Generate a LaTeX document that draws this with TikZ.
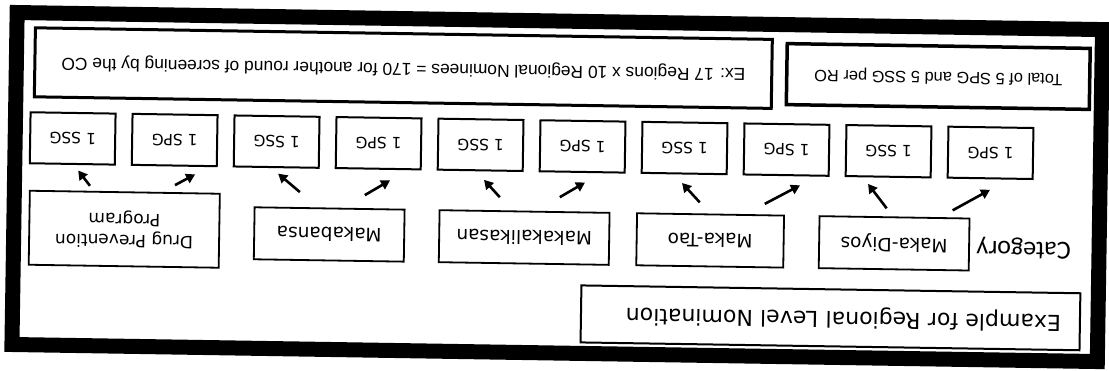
\documentclass[tikz,border=0pt]{standalone}
\usepackage{fontspec}
\setmainfont{DejaVu Sans}
\newfontfamily\notefont{Liberation Sans}
\newfontfamily\labelfont{Carlito}
\usetikzlibrary{positioning,arrows.meta}

\begin{document}
\begin{tikzpicture}[x=1pt, y=1pt, node distance=102pt]
                \tikzstyle{outerframe} = [draw, line width=15pt]
                \tikzstyle{headbox} = [draw, line width=2pt, minimum height=57pt, inner xsep=19pt, text width=461pt, align=left, font=\fontsize{22}{26}\selectfont]
                \tikzstyle{category} = [draw, line width=1.8pt, minimum height=52pt, align=center, font=\fontsize{18.5}{22}\selectfont]
                \tikzstyle{award} = [draw, line width=2pt, minimum width=85pt, minimum height=51pt, font=\fontsize{15.5}{18}\selectfont]
                \tikzstyle{note} = [draw, line width=3pt, font=\notefont\fontsize{17.4}{20}\selectfont]
                \tikzstyle{arrow} = [line width=2.6pt, -{Triangle[length=9pt, width=10pt]}]

                \useasboundingbox (0,0) rectangle (1109,371);
                \begin{scope}[shift={(554.5,185.5)}, rotate=179.1, transform shape]
                \draw [outerframe] (-545.5,-164.5) rectangle (540,167.5);

                \node (head) [headbox] at (-278,128) {Example for Regional Level Nomination};

                \node (diyos) [category, minimum width=150pt] at (-340.5,52.5) {Maka-Diyos};
                \node (tao) [category, minimum width=147pt] at (-156.5,52.5) {Maka-Tao};
                \node (kalikasan) [category, minimum width=170pt] at (29.5,52.5) {Makakalikasan};
                \node (bansa) [category, minimum width=150pt] at (224.5,52.5) {Makabansa};
                \node (drug) [category, minimum width=190pt, minimum height=74pt, font=\fontsize{17}{21}\selectfont] at (429.5,50.5) {Drug Prevention\\Program};
                \node (catlabel) [left=3pt of diyos, yshift=3pt, font=\labelfont\fontsize{26}{30}\selectfont] {Category};

                \node (spgdiyos) [award] at (-435.5,-39.5) {1 SPG};
                \node (ssgdiyos) [award, right of=spgdiyos] {1 SSG};
                \node (spgtao) [award, right of=ssgdiyos] {1 SPG};
                \node (ssgtao) [award, right of=spgtao] {1 SSG};
                \node (spgkalikasan) [award, right of=ssgtao] {1 SPG};
                \node (ssgkalikasan) [award, right of=spgkalikasan] {1 SSG};
                \node (spgbansa) [award, right of=ssgkalikasan] {1 SPG};
                \node (ssgbansa) [award, right of=spgbansa] {1 SSG};
                \node (spgdrug) [award, right of=ssgbansa] {1 SPG};
                \node (ssgdrug) [award, right of=spgdrug] {1 SSG};

                \node (total) [note, line width=3.5pt, minimum width=303pt, minimum height=61pt, font=\notefont\fontsize{16.4}{19}\selectfont] at (-382,-115) {Total of 5 SPG and 5 SSG per RO};
                \node (example) [note, minimum width=737pt, minimum height=69pt] at (153,-115) {Ex: 17 Regions x 10 Regional Nominees = 170 for another round of screening by the CO};

                \draw [arrow] ([shift={(-58,-7)}]diyos.south) -- ([shift={(0,10.5)}]spgdiyos.north);
                \draw [arrow] ([shift={(8,-8)}]diyos.south) -- ([shift={(20,6.5)}]ssgdiyos.north);
                \draw [arrow] ([shift={(-54,-10.5)}]tao.south) -- ([shift={(-14,9)}]spgtao.north);
                \draw [arrow] ([shift={(11,-11)}]tao.south) -- ([shift={(2,8.5)}]ssgtao.north);
                \draw [arrow] ([shift={(-35,-14)}]kalikasan.south) -- ([shift={(-3,9.5)}]spgkalikasan.north);
                \draw [arrow] ([shift={(25,-13)}]kalikasan.south) -- ([shift={(-4,8.5)}]ssgkalikasan.north);
                \draw [arrow] ([shift={(-35,-13)}]bansa.south) -- ([shift={(-12,10.5)}]spgbansa.north);
                \draw [arrow] ([shift={(30,-15)}]bansa.south) -- ([shift={(-2,5.5)}]ssgbansa.north);
                \draw [arrow] ([shift={(-50,-7)}]drug.south) -- ([shift={(-21,7.5)}]spgdrug.north);
                \draw [arrow] ([shift={(35,-5)}]drug.south) -- ([shift={(-6,5.5)}]ssgdrug.north);
                \end{scope}
            \end{tikzpicture}
\end{document}
